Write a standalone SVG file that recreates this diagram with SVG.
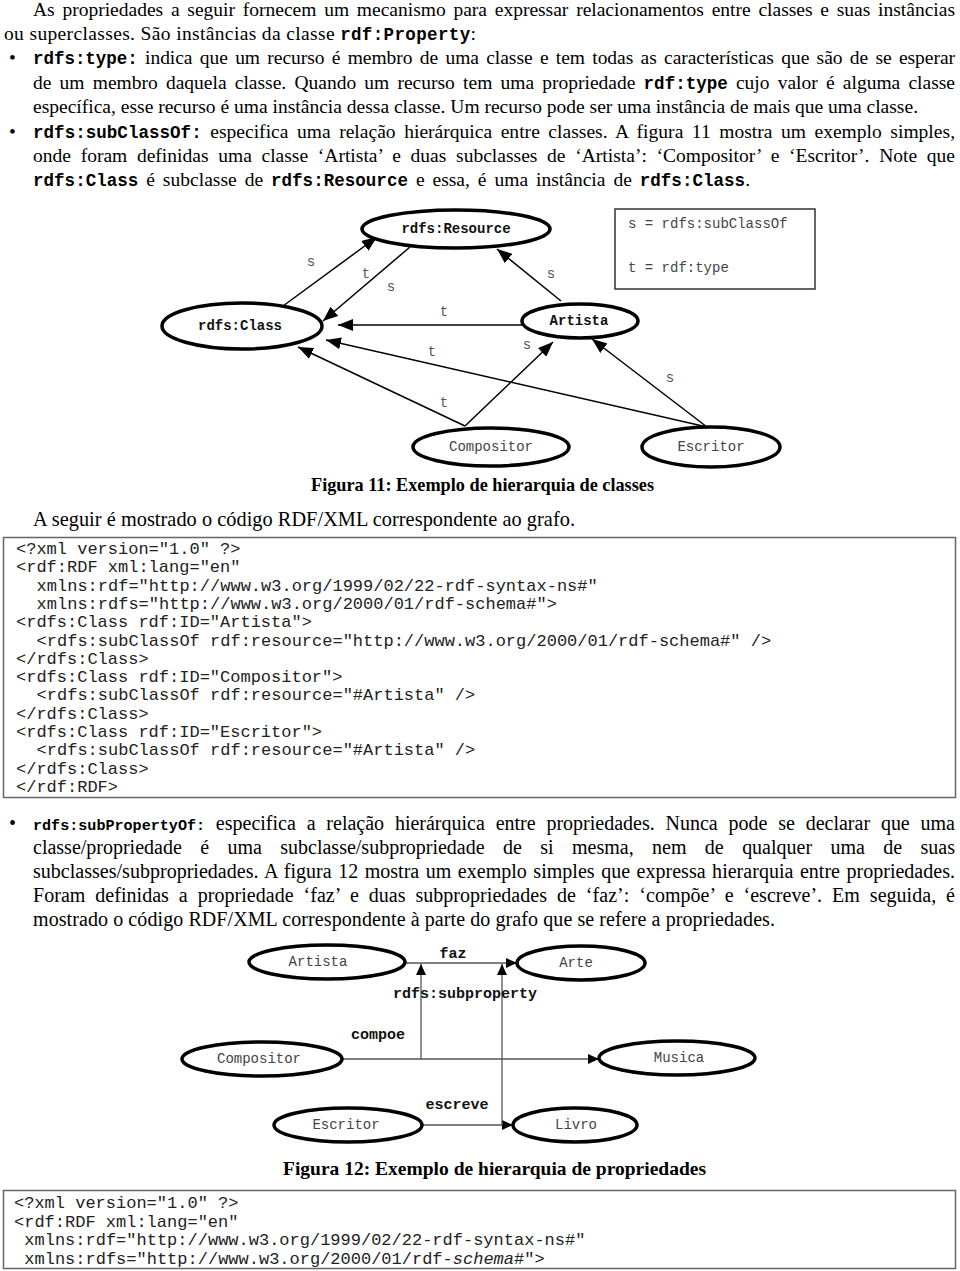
<svg xmlns="http://www.w3.org/2000/svg" width="960" height="1271" viewBox="0 0 960 1271">
<style>
.b{font-family:"Liberation Serif",serif;font-size:19.5px;fill:#000}
.b2{font-family:"Liberation Serif",serif;font-size:20px;fill:#000}
.m{font-family:"Liberation Mono",monospace;font-weight:bold;font-size:17.5px}
.m2{font-family:"Liberation Mono",monospace;font-weight:bold;font-size:15.1px}
.cap{font-family:"Liberation Serif",serif;font-weight:bold;font-size:18.8px;fill:#000}
.code{font-family:"Liberation Mono",monospace;font-size:17px;fill:#222}
.lbl{font-family:"Liberation Mono",monospace;font-size:14px;fill:#555;text-anchor:middle}
.nt{font-family:"Liberation Mono",monospace;font-size:14px;fill:#444;text-anchor:middle}
.ntb{font-family:"Liberation Mono",monospace;font-size:14px;font-weight:bold;fill:#111;text-anchor:middle}
.plb{font-family:"Liberation Mono",monospace;font-size:15px;font-weight:bold;fill:#111}
.node{fill:#fff;stroke:#000;stroke-width:3.5}
.e1{stroke:#000;stroke-width:1.5;fill:none;marker-end:url(#a1)}
.e2a{stroke:#555;stroke-width:1.3;fill:none;marker-end:url(#a2)}
.box{fill:none;stroke:#666;stroke-width:1.5}
</style>
<defs>
<marker id="a1" markerWidth="15" markerHeight="12" refX="15" refY="6" orient="auto" markerUnits="userSpaceOnUse"><path d="M0,0 L15,6 L0,12 z" fill="#000"/></marker>
<marker id="a2" markerWidth="11" markerHeight="10" refX="11" refY="5" orient="auto" markerUnits="userSpaceOnUse"><path d="M0,0 L11,5 L0,10 z" fill="#000"/></marker>
</defs>
<rect width="960" height="1271" fill="#fff"/>

<!-- top paragraph -->
<g id="para1">
<text class="b" x="33" y="16" style="word-spacing:2.9px" textLength="922" lengthAdjust="spacing">As propriedades a seguir fornecem um mecanismo para expressar relacionamentos entre classes e suas instâncias</text>
<text class="b" x="4" y="40" textLength="472" lengthAdjust="spacing">ou superclasses. São instâncias da classe <tspan class="m">rdf:Property</tspan>:</text>
<text class="b" x="9" y="64">•</text>
<text class="b" x="33" y="64" style="word-spacing:2.5px" textLength="922" lengthAdjust="spacing"><tspan class="m">rdfs:type:</tspan> indica que um recurso é membro de uma classe e tem todas as características que são de se esperar</text>
<text class="b" x="33" y="89" style="word-spacing:3.3px" textLength="922" lengthAdjust="spacing">de um membro daquela classe. Quando um recurso tem uma propriedade <tspan class="m">rdf:type</tspan> cujo valor é alguma classe</text>
<text class="b" x="33" y="113" textLength="885" lengthAdjust="spacing">específica, esse recurso é uma instância dessa classe. Um recurso pode ser uma instância de mais que uma classe.</text>
<text class="b" x="9" y="138">•</text>
<text class="b" x="33" y="138" style="word-spacing:3.6px" textLength="922" lengthAdjust="spacing"><tspan class="m">rdfs:subClassOf:</tspan> especifica uma relação hierárquica entre classes. A figura 11 mostra um exemplo simples,</text>
<text class="b" x="33" y="162" style="word-spacing:4.8px" textLength="922" lengthAdjust="spacing">onde foram definidas uma classe ‘Artista’ e duas subclasses de ‘Artista’: ‘Compositor’ e ‘Escritor’. Note que</text>
<text class="b" x="33" y="186" style="word-spacing:3px" textLength="717" lengthAdjust="spacing"><tspan class="m">rdfs:Class</tspan> é subclasse de <tspan class="m">rdfs:Resource</tspan> e essa, é uma instância de <tspan class="m">rdfs:Class</tspan>.</text>
</g>

<!-- Figure 11 connectors -->
<g id="fig11-edges">
<line class="e1" x1="283" y1="306" x2="377" y2="237"/>
<line class="e1" x1="410" y1="247" x2="323" y2="321"/>
<line class="e1" x1="522" y1="325" x2="338" y2="325"/>
<line class="e1" x1="707" y1="427" x2="326" y2="340"/>
<line class="e1" x1="465" y1="426" x2="298" y2="347"/>
<line class="e1" x1="465" y1="426" x2="553" y2="342"/>
<line class="e1" x1="707" y1="427" x2="592" y2="339"/>
<line class="e1" x1="561" y1="301" x2="497" y2="249"/>
<text class="lbl" x="311" y="266">s</text>
<text class="lbl" x="366" y="278">t</text>
<text class="lbl" x="391" y="291">s</text>
<text class="lbl" x="444" y="316">t</text>
<text class="lbl" x="432" y="356">t</text>
<text class="lbl" x="444" y="407">t</text>
<text class="lbl" x="527" y="349">s</text>
<text class="lbl" x="670" y="382">s</text>
<text class="lbl" x="551" y="278">s</text>
</g>

<!-- Figure 11 nodes -->
<g id="n-resource"><ellipse class="node" cx="456" cy="229" rx="94" ry="19"/><text class="ntb" x="456" y="233">rdfs:Resource</text></g>
<g id="n-class"><ellipse class="node" cx="242" cy="326" rx="80" ry="23"/><text class="ntb" x="240" y="330">rdfs:Class</text></g>
<g id="n-artista"><ellipse class="node" cx="580" cy="321" rx="58" ry="17"/><text class="ntb" x="579" y="325">Artista</text></g>
<g id="n-compositor"><ellipse class="node" cx="491" cy="447" rx="78" ry="19"/><text class="nt" x="491" y="451">Compositor</text></g>
<g id="n-escritor"><ellipse class="node" cx="711" cy="447" rx="69" ry="20"/><text class="nt" x="711" y="451">Escritor</text></g>
<g id="legend">
<rect x="615" y="209" width="200" height="80" fill="#fff" stroke="#333" stroke-width="1.5"/>
<text class="nt" x="628" y="228" style="text-anchor:start">s = rdfs:subClassOf</text>
<text class="nt" x="628" y="272" style="text-anchor:start">t = rdf:type</text>
</g>
<text class="cap" x="311" y="491" textLength="343" lengthAdjust="spacingAndGlyphs">Figura 11: Exemplo de hierarquia de classes</text>

<text class="b" x="33" y="526" style="font-size:20.3px" textLength="542" lengthAdjust="spacing">A seguir é mostrado o código RDF/XML correspondente ao grafo.</text>

<!-- code block 1 -->
<g id="code1">
<rect class="box" x="3.5" y="537.5" width="952" height="260"/>
<text class="code" x="16" y="554">&lt;?xml version="1.0" ?&gt;</text>
<text class="code" x="16" y="572.3">&lt;rdf:RDF xml:lang="en"</text>
<text class="code" x="36.6" y="590.6">xmlns:rdf="http://www.w3.org/1999/02/22-rdf-syntax-ns#"</text>
<text class="code" x="36.6" y="608.9">xmlns:rdfs="http://www.w3.org/2000/01/rdf-schema#"&gt;</text>
<text class="code" x="16" y="627.2">&lt;rdfs:Class rdf:ID="Artista"&gt;</text>
<text class="code" x="36.6" y="645.5">&lt;rdfs:subClassOf rdf:resource="http://www.w3.org/2000/01/rdf-schema#" /&gt;</text>
<text class="code" x="16" y="663.8">&lt;/rdfs:Class&gt;</text>
<text class="code" x="16" y="682.1">&lt;rdfs:Class rdf:ID="Compositor"&gt;</text>
<text class="code" x="36.6" y="700.4">&lt;rdfs:subClassOf rdf:resource="#Artista" /&gt;</text>
<text class="code" x="16" y="718.7">&lt;/rdfs:Class&gt;</text>
<text class="code" x="16" y="737">&lt;rdfs:Class rdf:ID="Escritor"&gt;</text>
<text class="code" x="36.6" y="755.3">&lt;rdfs:subClassOf rdf:resource="#Artista" /&gt;</text>
<text class="code" x="16" y="773.6">&lt;/rdfs:Class&gt;</text>
<text class="code" x="16" y="791.9">&lt;/rdf:RDF&gt;</text>
</g>

<!-- second paragraph -->
<g id="para2">
<text class="b2" x="9" y="830">•</text>
<text class="b2" x="33" y="830" style="word-spacing:5.8px" textLength="922" lengthAdjust="spacing"><tspan class="m2">rdfs:subPropertyOf:</tspan> especifica a relação hierárquica entre propriedades. Nunca pode se declarar que uma</text>
<text class="b2" x="33" y="854" style="word-spacing:13.4px" textLength="922" lengthAdjust="spacing">classe/propriedade é uma subclasse/subpropriedade de si mesma, nem de qualquer uma de suas</text>
<text class="b2" x="33" y="878" style="word-spacing:1.5px" textLength="922" lengthAdjust="spacing">subclasses/subpropriedades. A figura 12 mostra um exemplo simples que expressa hierarquia entre propriedades.</text>
<text class="b2" x="33" y="902" style="word-spacing:4.9px" textLength="922" lengthAdjust="spacing">Foram definidas a propriedade ‘faz’ e duas subpropriedades de ‘faz’: ‘compõe’ e ‘escreve’. Em seguida, é</text>
<text class="b2" x="33" y="926" textLength="742" lengthAdjust="spacing">mostrado o código RDF/XML correspondente à parte do grafo que se refere a propriedades.</text>
</g>

<!-- Figure 12 connectors -->
<g id="fig12-edges">
<line class="e2a" x1="405" y1="963" x2="517" y2="963"/>
<line class="e2a" x1="342" y1="1059" x2="599" y2="1059"/>
<line class="e2a" x1="422" y1="1125" x2="513" y2="1125"/>
<line class="e2a" x1="421" y1="1059" x2="421" y2="964"/>
<line class="e2a" x1="502" y1="1125" x2="502" y2="964"/>
<text class="plb" x="453" y="958" text-anchor="middle">faz</text>
<text class="plb" x="393" y="998">rdfs:subproperty</text>
<text class="plb" x="378" y="1039" text-anchor="middle">compoe</text>
<text class="plb" x="457" y="1109" text-anchor="middle">escreve</text>
</g>

<!-- Figure 12 nodes -->
<g id="p-artista"><ellipse class="node" cx="327" cy="962" rx="78" ry="17"/><text class="nt" x="318" y="966">Artista</text></g>
<g id="p-arte"><ellipse class="node" cx="581" cy="963" rx="64" ry="17"/><text class="nt" x="576" y="967">Arte</text></g>
<g id="p-compositor"><ellipse class="node" cx="262" cy="1059" rx="80" ry="17"/><text class="nt" x="259" y="1063">Compositor</text></g>
<g id="p-musica"><ellipse class="node" cx="677" cy="1058" rx="78" ry="17"/><text class="nt" x="679" y="1062">Musica</text></g>
<g id="p-escritor"><ellipse class="node" cx="348" cy="1125" rx="74" ry="17"/><text class="nt" x="346" y="1129">Escritor</text></g>
<g id="p-livro"><ellipse class="node" cx="575" cy="1125" rx="62" ry="17"/><text class="nt" x="576" y="1129">Livro</text></g>
<text class="cap" x="283" y="1175" textLength="423" lengthAdjust="spacingAndGlyphs">Figura 12: Exemplo de hierarquia de propriedades</text>

<!-- code block 2 -->
<g id="code2">
<rect class="box" x="3.5" y="1190.5" width="952" height="78"/>
<text class="code" x="14" y="1208">&lt;?xml version="1.0" ?&gt;</text>
<text class="code" x="14" y="1227">&lt;rdf:RDF xml:lang="en"</text>
<text class="code" x="24.3" y="1245">xmlns:rdf="http://www.w3.org/1999/02/22-rdf-syntax-ns#"</text>
<text class="code" x="24.3" y="1264">xmlns:rdfs="http://www.w3.org/2000/01/rdf-<tspan font-style="italic">schema</tspan>#"&gt;</text>
</g>
</svg>
